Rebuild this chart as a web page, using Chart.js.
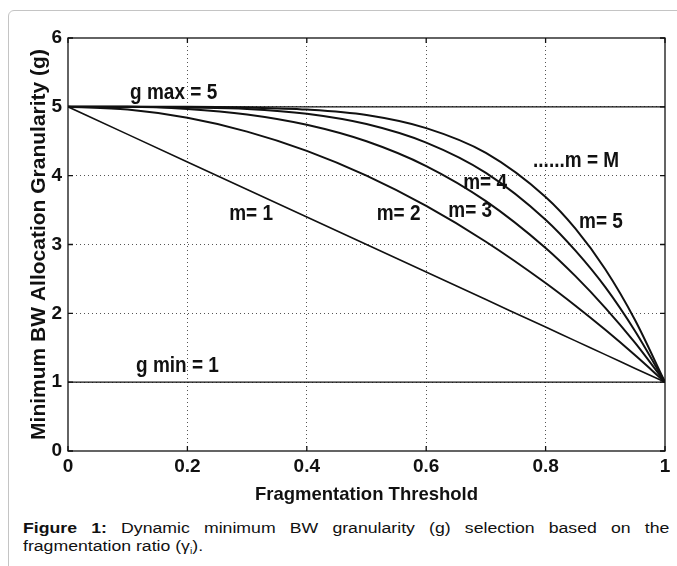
<!DOCTYPE html>
<html>
<head>
<meta charset="utf-8">
<script src="https://cdn.jsdelivr.net/npm/chart.js@4.4.0/dist/chart.umd.min.js"></script>
<style>
html, body { margin: 0; padding: 0; background: #fff; width: 677px; height: 566px; overflow: hidden; position: relative; }
#frame { position: absolute; left: 8px; top: 10px; width: 720px; height: 620px; border: 1px solid #c4c4c4; border-radius: 6px; }
#grafico { position: absolute; left: 0; top: 0; }
.cap { position: absolute; left: 23px; font-family: "Liberation Sans", Arial, sans-serif; font-size: 15.5px; color: #111; line-height: 19px; transform-origin: 0 0; transform: scaleX(1.14); }
#cap1 { top: 518px; width: 567px; text-align: justify; text-align-last: justify; }
#cap2 { top: 536px; white-space: nowrap; }
sub { font-size: 9px; vertical-align: -3px; }
</style>
</head>
<body>
<div id="frame"></div>
<canvas id="grafico" width="677" height="510"></canvas>
<div class="cap" id="cap1"><b>Figure 1:</b> Dynamic minimum BW granularity (g) selection based on the</div>
<div class="cap" id="cap2">fragmentation ratio (γ<sub>i</sub>).</div>
<script>
// fragmentation threshold samples
const umbral = [0, 0.1, 0.2, 0.3, 0.4, 0.5, 0.6, 0.7, 0.8, 0.85, 0.9, 0.95, 1];
// granularity
const m1 = [5, 4.6, 4.2, 3.8, 3.4, 3.0, 2.6, 2.2, 1.8, 1.6, 1.4, 1.2, 1];
const m2 = [5, 4.96, 4.84, 4.64, 4.36, 4.0, 3.56, 3.04, 2.44, 2.11, 1.76, 1.39, 1];
const m3 = [5, 5.0, 4.97, 4.89, 4.74, 4.5, 4.14, 3.63, 2.95, 2.54, 2.08, 1.57, 1];
const m4 = [5, 5.0, 4.99, 4.97, 4.9, 4.75, 4.48, 4.04, 3.36, 2.91, 2.38, 1.74, 1];
const m5 = [5, 5.0, 5.0, 4.99, 4.96, 4.88, 4.69, 4.33, 3.69, 3.23, 2.64, 1.9, 1];
const gMax = 5;
const gMin = 1;
const xTicks = [0, 0.2, 0.4, 0.6, 0.8, 1];
const yTicks = [0, 1, 2, 3, 4, 5, 6];

// text labels inside the plot, in data units
const notas = [
    { text: 'g max = 5', x: 0.104, y: 5.2 },
    { text: 'm= 1', x: 0.27, y: 3.45 },
    { text: 'm= 2', x: 0.517, y: 3.45 },
    { text: 'm= 3', x: 0.637, y: 3.49 },
    { text: 'm= 4', x: 0.662, y: 3.9 },
    { text: '......m = M', x: 0.779, y: 4.22 },
    { text: 'm= 5', x: 0.856, y: 3.32 },
    { text: 'g min = 1', x: 0.114, y: 1.23 }
];

const SANS = '"Liberation Sans", Arial, sans-serif';
const INK = '#111';

let pts = ys => umbral.map((x, i) => ({ x: x, y: ys[i] }));
let linea = (data, w) => ({
    data: data, borderColor: INK, borderWidth: w, pointRadius: 0,
    showLine: true, fill: false, cubicInterpolationMode: 'monotone'
});

let marco = {
    id: 'marco',
    afterDraw(chart) {
        const { ctx, chartArea: a, scales: { x, y } } = chart;
        ctx.save();
        ctx.strokeStyle = INK;
        ctx.lineWidth = 1.3;
        ctx.strokeRect(a.left, a.top, a.right - a.left, a.bottom - a.top);
        ctx.beginPath();
        xTicks.forEach(v => {
            let px = x.getPixelForValue(v);
            ctx.moveTo(px, a.bottom); ctx.lineTo(px, a.bottom - 5);
            ctx.moveTo(px, a.top); ctx.lineTo(px, a.top + 5);
        });
        yTicks.forEach(v => {
            let py = y.getPixelForValue(v);
            ctx.moveTo(a.left, py); ctx.lineTo(a.left + 5, py);
            ctx.moveTo(a.right, py); ctx.lineTo(a.right - 5, py);
        });
        ctx.stroke();
        ctx.fillStyle = INK;
        ctx.font = 'bold 19px ' + SANS;
        ctx.textAlign = 'left';
        ctx.textBaseline = 'middle';
        notas.forEach(n => {
            ctx.save();
            ctx.translate(x.getPixelForValue(n.x), y.getPixelForValue(n.y));
            ctx.scale(1, 1.15);
            ctx.fillText(n.text, 0, 0);
            ctx.restore();
        });
        ctx.restore();
    }
};

let interior = (lo, hi) => c => (c.tick && c.tick.value > lo && c.tick.value < hi) ? '#555' : 'rgba(0,0,0,0)';

new Chart(document.querySelector('#grafico'), {
    type: 'scatter',
    data: {
        datasets: [
            linea(pts(m1), 1.6),
            linea(pts(m2), 2),
            linea(pts(m3), 2),
            linea(pts(m4), 2),
            linea(pts(m5), 2),
            linea([{ x: 0, y: gMax }, { x: 1, y: gMax }], 1.4),
            linea([{ x: 0, y: gMin }, { x: 1, y: gMin }], 1.4)
        ]
    },
    options: {
        responsive: false,
        animation: false,
        devicePixelRatio: 1,
        layout: { padding: { top: 38, right: 12, bottom: 5, left: 0 } },
        plugins: { legend: { display: false }, tooltip: { enabled: false } },
        scales: {
            x: {
                type: 'linear', min: 0, max: 1,
                afterBuildTicks: s => { s.ticks = xTicks.map(v => ({ value: v })); },
                afterFit: s => { s.height = 54; },
                grid: { color: interior(0, 1), drawTicks: false, lineWidth: 1 },
                border: { display: false, dash: [1, 3] },
                ticks: { padding: 4, color: INK, font: { family: SANS, size: 19, weight: 'bold' }, callback: v => String(v) },
                title: { display: true, text: 'Fragmentation Threshold', color: INK, padding: { top: 0, bottom: 1 }, font: { family: SANS, size: 18.5, weight: 'bold', lineHeight: 1 } }
            },
            y: {
                type: 'linear', min: 0, max: 6,
                afterBuildTicks: s => { s.ticks = yTicks.map(v => ({ value: v })); },
                afterFit: s => { s.width = 68; },
                grid: { color: interior(0, 6), drawTicks: false, lineWidth: 1 },
                border: { display: false, dash: [1, 3] },
                ticks: { padding: 6, color: INK, font: { family: SANS, size: 19, weight: 'bold' }, callback: v => String(v) },
                title: { display: true, text: 'Minimum BW Allocation Granularity (g)', color: INK, padding: { top: 29, bottom: 0 }, font: { family: SANS, size: 21, weight: 'bold', lineHeight: 1 } }
            }
        }
    },
    plugins: [marco]
});
</script>
</body>
</html>
